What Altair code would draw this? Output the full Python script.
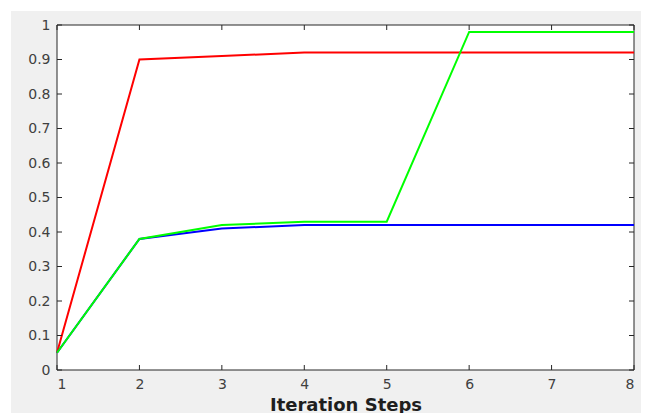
import altair as alt
import pandas as pd

steps = [1, 2, 3, 4, 5, 6, 7, 8]
red_vals = [0.05, 0.90, 0.91, 0.92, 0.92, 0.92, 0.92, 0.92]
blue_vals = [0.05, 0.38, 0.41, 0.42, 0.42, 0.42, 0.42, 0.42]
green_vals = [0.05, 0.38, 0.42, 0.43, 0.43, 0.98, 0.98, 0.98]
x_ticks = [1, 2, 3, 4, 5, 6, 7, 8]
y_ticks = [0, 0.1, 0.2, 0.3, 0.4, 0.5, 0.6, 0.7, 0.8, 0.9, 1.0]

W, H = 577, 345
AX = "#262626"

xs = alt.Scale(domain=[1, 8], nice=False, zero=False)
ys = alt.Scale(domain=[0, 1], nice=False)

x_axis = alt.Axis(values=x_ticks, format="d", grid=False, domain=False, ticks=False,
                  labelFont="DejaVu Sans", labelFontSize=14, labelColor="#404040",
                  labelPadding=7, labelOverlap=False, title="Iteration Steps",
                  titleFont="DejaVu Sans", titleFontSize=18, titleFontWeight="bold",
                  titleColor="#1e1e1e", titleBaseline="alphabetic", titleY=40,
                  titleX=W / 2, zindex=1)
y_axis = alt.Axis(values=y_ticks, format=".1~f", grid=False, domain=False, ticks=False,
                  labelFont="DejaVu Sans", labelFontSize=14, labelColor="#404040",
                  labelPadding=7, labelOverlap=False, title=None, zindex=1)

one = alt.Data(values=[{"a": 1}])

bg = alt.Chart(one).mark_rect(fill="#f0f0f0").encode(
    x=alt.value(-46), x2=alt.value(W + 20), y=alt.value(-14), y2=alt.value(H + 60))
plot_bg = alt.Chart(one).mark_rect(fill="white", stroke=AX, strokeWidth=1).encode(
    x=alt.value(0), x2=alt.value(W), y=alt.value(0), y2=alt.value(H))

def series(vals, color):
    df = pd.DataFrame({"step": steps, "v": vals})
    return alt.Chart(df).mark_line(color=color, strokeWidth=2).encode(
        x=alt.X("step:Q", scale=xs, axis=x_axis),
        y=alt.Y("v:Q", scale=ys, axis=y_axis))

red = series(red_vals, "#ff0000")
blue = series(blue_vals, "#0000ff")
green = series(green_vals, "#00ff00")

xt = pd.DataFrame({"t": x_ticks})
yt = pd.DataFrame({"t": y_ticks})
tick_top = alt.Chart(xt).mark_rule(color=AX).encode(
    x=alt.X("t:Q", scale=xs, axis=x_axis), y=alt.value(0), y2=alt.value(5))
tick_bot = alt.Chart(xt).mark_rule(color=AX).encode(
    x=alt.X("t:Q", scale=xs, axis=x_axis), y=alt.value(H), y2=alt.value(H - 5))
tick_left = alt.Chart(yt).mark_rule(color=AX).encode(
    y=alt.Y("t:Q", scale=ys, axis=y_axis), x=alt.value(0), x2=alt.value(5))
tick_right = alt.Chart(yt).mark_rule(color=AX).encode(
    y=alt.Y("t:Q", scale=ys, axis=y_axis), x=alt.value(W - 5), x2=alt.value(W))

chart = alt.layer(bg, plot_bg, red, blue, green, tick_top, tick_bot, tick_left, tick_right).properties(
    width=W, height=H,
    padding={"left": 49, "top": 17, "right": 7, "bottom": 43},
    autosize=alt.AutoSizeParams(type="none"),
    background="white",
).configure_view(stroke=None)

chart.save("out.html", embed_options={"renderer": "svg", "actions": False})
